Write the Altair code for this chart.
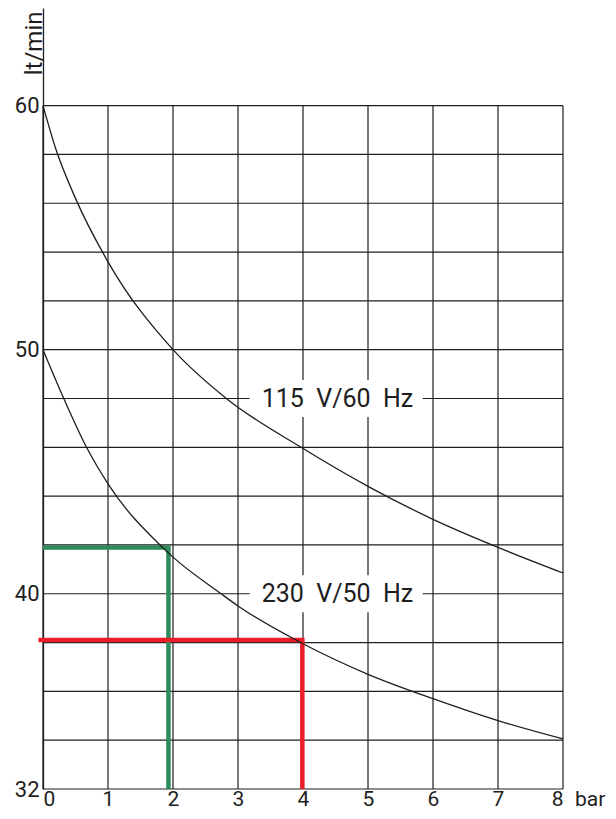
import altair as alt
import pandas as pd

# ---- data ----
x_ticks = [0, 1, 2, 3, 4, 5, 6, 7, 8]
y_ticks = [32, 40, 50, 60]
grid_y = list(range(32, 61, 2))

c115_x = [0, 0.2, 0.5, 1, 2, 2.82, 3.97, 5, 6, 7, 8]
c115_y = [60, 58.2, 56.2, 53.6, 50, 48, 46, 44.4, 43.05, 41.9, 40.85]

c230_x = [0, 0.32, 0.67, 1, 1.8, 2, 2.74, 3, 4, 5, 6, 7, 8]
c230_y = [50, 48, 46, 44.5, 42, 41.5, 40, 39.5, 37.95, 36.7, 35.7, 34.8, 34.05]

green_x = [0, 1.93, 1.93]
green_y = [41.9, 41.9, 32]
red_x = [-0.07, 3.99, 3.99]
red_y = [38.1, 38.1, 32]

labels = ["115\u00a0 V/60\u00a0 Hz", "230\u00a0 V/50\u00a0 Hz"]
label_x = [4.53, 4.53]
label_y = [48, 40]
box_x0, box_x1, box_half = 3.18, 5.84, 0.76

font = "Roboto"
ink = "#1e1e1e"

X = alt.Scale(domain=[0, 8], nice=False, zero=False)
Y = alt.Scale(domain=[32, 64], nice=False, zero=False)

x_axis = alt.Axis(values=x_ticks, title=None, domain=False, ticks=False, grid=False,
                  labelFontSize=21, labelFont=font, labelColor=ink, labelPadding=16.8,
                  labelBaseline="alphabetic", labelAngle=0)
y_axis = alt.Axis(values=y_ticks, title="lt/min", domain=True, domainColor=ink,
                  domainWidth=1.3, ticks=False, grid=False, labelFontSize=22,
                  labelFont=font, labelColor=ink, labelPadding=4,
                  titleFont=font, titleFontSize=24, titleFontWeight="normal",
                  titleColor=ink, titleAngle=270, titleX=-2, titleY=3,
                  titleAlign="right", titleBaseline="alphabetic")


def ex(field="x"):
    return alt.X(f"{field}:Q", scale=X, axis=x_axis)


def ey(field="y"):
    return alt.Y(f"{field}:Q", scale=Y, axis=y_axis)


grid_v = pd.DataFrame({"x": x_ticks, "y": [32] * len(x_ticks), "y2": [60] * len(x_ticks)})
grid_h = pd.DataFrame({"y": grid_y, "x": [0] * len(grid_y), "x2": [8] * len(grid_y)})

vlines = alt.Chart(grid_v).mark_rule(color=ink, strokeWidth=1.2).encode(
    x=ex(), y=ey(), y2="y2:Q",
)
hlines = alt.Chart(grid_h).mark_rule(color=ink, strokeWidth=1.2).encode(
    x=ex(), x2="x2:Q", y=ey(),
)

boxes_df = pd.DataFrame({
    "x": [box_x0] * 2, "x2": [box_x1] * 2,
    "y": [v - box_half for v in label_y], "y2": [v + box_half for v in label_y],
})
boxes = alt.Chart(boxes_df).mark_rect(fill="white").encode(
    x=ex(), x2="x2:Q", y=ey(), y2="y2:Q",
)

lab_df = pd.DataFrame({"t": labels, "x": label_x, "y": label_y})
lab = alt.Chart(lab_df).mark_text(font=font, fontSize=25, color=ink, align="center",
                                  baseline="middle").encode(
    x=ex(), y=ey(), text="t:N",
)

curves_df = pd.concat([
    pd.DataFrame({"s": "115", "x": c115_x, "y": c115_y}),
    pd.DataFrame({"s": "230", "x": c230_x, "y": c230_y}),
])
curves = alt.Chart(curves_df).mark_line(interpolate="monotone", color=ink,
                                        strokeWidth=1.3).encode(
    x=ex(), y=ey(), detail="s:N",
)

paths_df = pd.concat([
    pd.DataFrame({"s": "green", "i": [0, 1, 2], "x": green_x, "y": green_y}),
    pd.DataFrame({"s": "red", "i": [0, 1, 2], "x": red_x, "y": red_y}),
])
paths = alt.Chart(paths_df).mark_line(strokeWidth=4.5, strokeJoin="miter",
                                      strokeCap="butt", clip=False).encode(
    x=ex(), y=ey(),
    color=alt.Color("s:N", scale=alt.Scale(domain=["green", "red"],
                                           range=["#2f8a5c", "#ec1c2a"]), legend=None),
    order="i:Q",
)

bar_df = pd.DataFrame({"t": ["bar"], "x": [8], "y": [32]})
bar_lab = alt.Chart(bar_df).mark_text(
    font=font, fontSize=21, color=ink, align="left", baseline="alphabetic", dx=12, dy=16.8
).encode(x=ex(), y=ey(), text="t:N")

chart = alt.layer(vlines, hlines, boxes, lab, paths, curves, bar_lab).properties(
    width=520, height=781,
    autosize=alt.AutoSizeParams(type="none"),
    padding={"left": 35, "top": 0, "right": 45, "bottom": 22},
).configure_view(stroke=None)

chart.save("out.html", embed_options={"renderer": "svg", "actions": False})
